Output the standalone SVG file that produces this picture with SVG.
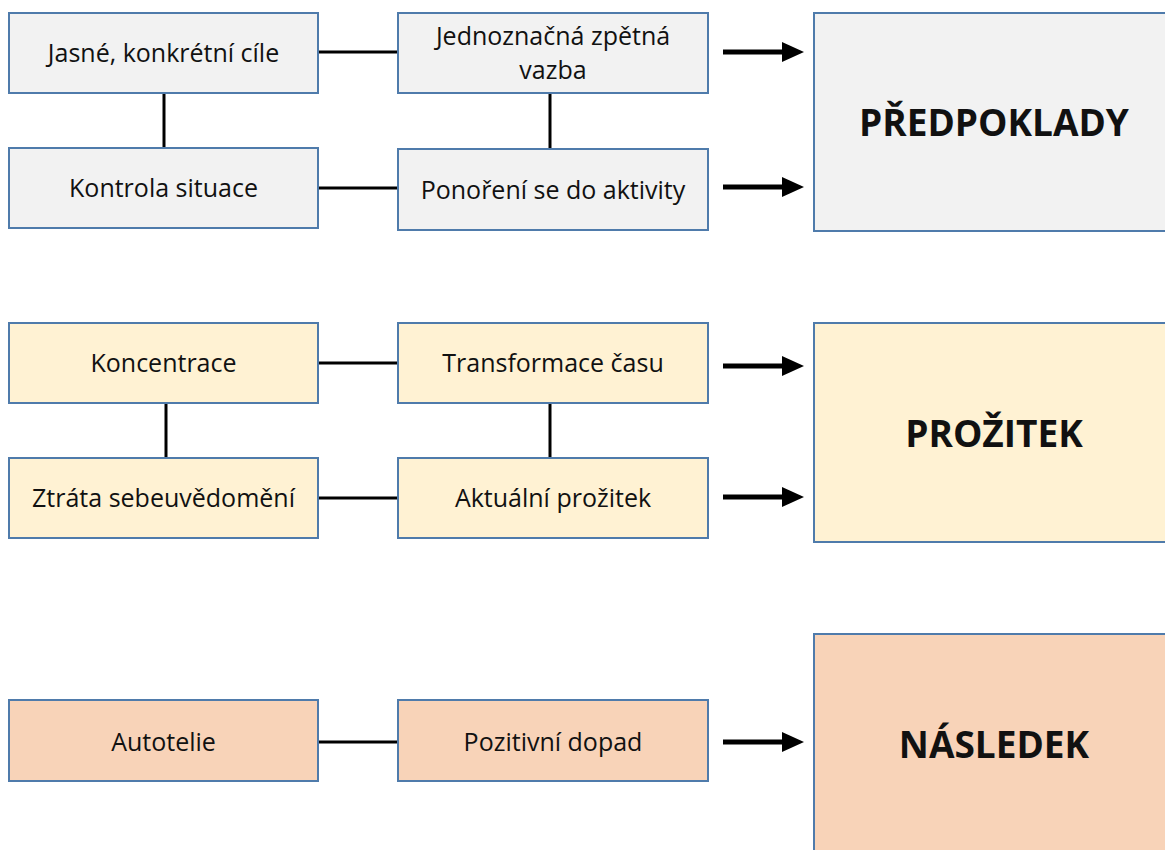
<svg xmlns="http://www.w3.org/2000/svg" width="1165" height="850" viewBox="0 0 1165 850">
  <style>
    .box { stroke: #4f7bab; stroke-width: 2; }
    .grey { fill: #f2f2f2; }
    .yellow { fill: #fff2d3; }
    .orange { fill: #f8d3b8; }
    .label { font-family: "Open Sans", "Noto Sans", "DejaVu Sans", sans-serif; font-size: 25px; fill: #111; text-anchor: middle; }
    .title { font-family: "Open Sans", "Noto Sans", "DejaVu Sans", sans-serif; font-size: 37px; font-weight: bold; fill: #111; text-anchor: middle; }
    .link { stroke: #000; stroke-width: 3; fill: none; }
    .arrow { stroke: #000; stroke-width: 5; fill: none; marker-end: url(#head); }
  </style>
  <defs>
    <marker id="head" viewBox="0 0 22 20" refX="0" refY="10" markerWidth="22" markerHeight="20" markerUnits="userSpaceOnUse" orient="auto">
      <path d="M0,0 L22,10 L0,20 Z" fill="#000"/>
    </marker>
  </defs>

  <!-- connectors -->
  <g id="connectors">
    <line class="link" x1="318" y1="52" x2="398" y2="52"/>
    <line class="link" x1="318" y1="188" x2="398" y2="188"/>
    <line class="link" x1="164" y1="93" x2="164" y2="148"/>
    <line class="link" x1="550" y1="93" x2="550" y2="149"/>
    <line class="arrow" x1="723" y1="52" x2="782" y2="52"/>
    <line class="arrow" x1="723" y1="187" x2="782" y2="187"/>

    <line class="link" x1="318" y1="363" x2="398" y2="363"/>
    <line class="link" x1="318" y1="498" x2="398" y2="498"/>
    <line class="link" x1="166" y1="403" x2="166" y2="458"/>
    <line class="link" x1="550" y1="403" x2="550" y2="458"/>
    <line class="arrow" x1="723" y1="366" x2="782" y2="366"/>
    <line class="arrow" x1="723" y1="497" x2="782" y2="497"/>

    <line class="link" x1="318" y1="742" x2="398" y2="742"/>
    <line class="arrow" x1="723" y1="742" x2="782" y2="742"/>
  </g>

  <!-- prerequisites -->
  <g id="cile">
    <rect class="box grey" x="9" y="13" width="309" height="80"/>
    <text class="label" x="163.5" y="62">Jasné, konkrétní cíle</text>
  </g>
  <g id="zpetna-vazba">
    <rect class="box grey" x="398" y="13" width="310" height="80"/>
    <text class="label" x="553" y="45">Jednoznačná zpětná</text>
    <text class="label" x="553" y="79">vazba</text>
  </g>
  <g id="kontrola">
    <rect class="box grey" x="9" y="148" width="309" height="80"/>
    <text class="label" x="163.5" y="197">Kontrola situace</text>
  </g>
  <g id="ponoreni">
    <rect class="box grey" x="398" y="149" width="310" height="81"/>
    <text class="label" x="553" y="199">Ponoření se do aktivity</text>
  </g>
  <g id="predpoklady">
    <rect class="box grey" x="814" y="13" width="400" height="218"/>
    <text class="title" x="994" y="136">PŘEDPOKLADY</text>
  </g>

  <!-- experience -->
  <g id="koncentrace">
    <rect class="box yellow" x="9" y="323" width="309" height="80"/>
    <text class="label" x="163.5" y="372">Koncentrace</text>
  </g>
  <g id="transformace">
    <rect class="box yellow" x="398" y="323" width="310" height="80"/>
    <text class="label" x="553" y="372">Transformace času</text>
  </g>
  <g id="ztrata">
    <rect class="box yellow" x="9" y="458" width="309" height="80"/>
    <text class="label" x="163.5" y="507">Ztráta sebeuvědomění</text>
  </g>
  <g id="aktualni">
    <rect class="box yellow" x="398" y="458" width="310" height="80"/>
    <text class="label" x="553" y="507">Aktuální prožitek</text>
  </g>
  <g id="prozitek">
    <rect class="box yellow" x="814" y="323" width="400" height="219"/>
    <text class="title" x="994" y="447">PROŽITEK</text>
  </g>

  <!-- consequence -->
  <g id="autotelie">
    <rect class="box orange" x="9" y="700" width="309" height="81"/>
    <text class="label" x="163.5" y="751">Autotelie</text>
  </g>
  <g id="dopad">
    <rect class="box orange" x="398" y="700" width="310" height="81"/>
    <text class="label" x="553" y="751">Pozitivní dopad</text>
  </g>
  <g id="nasledek">
    <rect class="box orange" x="814" y="634" width="400" height="260"/>
    <text class="title" x="994" y="758">NÁSLEDEK</text>
  </g>
</svg>
